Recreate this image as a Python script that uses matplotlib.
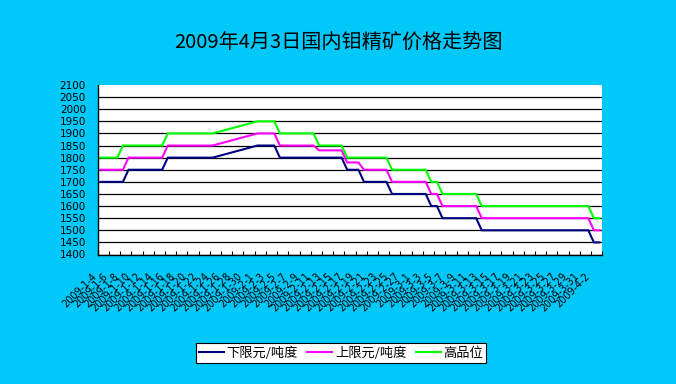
import matplotlib
matplotlib.use('Agg')
import matplotlib.pyplot as plt
import matplotlib.dates as mdates
import matplotlib.transforms as mtransforms
import numpy as np
import pandas as pd

# ---------------------------- Chart Data ---------------------------- #
# Observation dates where the prices change (the lines are joined straight between them)
obsDates = ['2009-01-04', '2009-01-07', '2009-01-08', '2009-01-09', '2009-01-15', '2009-01-16',
            '2009-01-24', '2009-02-01', '2009-02-04', '2009-02-05', '2009-02-11', '2009-02-12',
            '2009-02-16', '2009-02-17', '2009-02-19', '2009-02-20', '2009-02-24', '2009-02-25',
            '2009-03-03', '2009-03-04', '2009-03-05', '2009-03-06', '2009-03-12', '2009-03-13',
            '2009-04-01', '2009-04-02', '2009-04-03']
# 下限元/吨度
lowPrice = [1700, 1700, 1700, 1750, 1750, 1800, 1800, 1850, 1850, 1800, 1800, 1800,
            1800, 1750, 1750, 1700, 1700, 1650, 1650, 1600, 1600, 1550, 1550, 1500,
            1500, 1450, 1450]
# 上限元/吨度
highPrice = [1750, 1750, 1750, 1800, 1800, 1850, 1850, 1900, 1900, 1850, 1850, 1830,
             1830, 1780, 1780, 1750, 1750, 1700, 1700, 1650, 1650, 1600, 1600, 1550,
             1550, 1500, 1500]
# 高品位
gradePrice = [1800, 1800, 1850, 1850, 1850, 1900, 1900, 1950, 1950, 1900, 1900, 1850,
              1850, 1800, 1800, 1800, 1800, 1750, 1750, 1700, 1700, 1650, 1650, 1600,
              1600, 1550, 1550]

seriesNames = ['下限元/吨度', '上限元/吨度', '高品位']
seriesColors = ['#000080', '#FF00FF', '#00FF00']
firstDay, lastDay = '2009-01-04', '2009-04-03'
titleText = '2009年4月3日国内钼精矿价格走势图'

# ---------------------------- Figure Setup ---------------------------- #
plt.rcParams['font.family'] = ['Noto Sans CJK SC', 'DejaVu Sans']
bgColor = '#00C8F8'

fig = plt.figure(figsize=(6.76, 3.84), dpi=100)
fig.patch.set_facecolor(bgColor)
ax = fig.add_axes([97.7 / 676, 1 - 254.5 / 384, (602.3 - 97.7) / 676, (254.5 - 85) / 384])
ax.set_facecolor('white')

# Convert the dates to axis numbers
obsNum = mdates.date2num(pd.to_datetime(obsDates))
xStart = mdates.date2num(pd.Timestamp(firstDay)) - 0.5
xEnd = mdates.date2num(pd.Timestamp(lastDay)) + 0.5

for values, name, color in zip([lowPrice, highPrice, gradePrice], seriesNames, seriesColors):
    ax.plot(obsNum, values, color=color, linewidth=1.5, label=name, solid_joinstyle='miter')

# Y axis
ax.set_ylim(1400, 2100)
ax.set_yticks(np.arange(1400, 2101, 50))
ax.yaxis.grid(True, color='black', linewidth=0.9)
ax.set_axisbelow(True)
ax.yaxis.get_gridlines()[-1].set_visible(False)
ax.tick_params(axis='y', length=0, pad=8.5, labelsize=7.5)

# X axis: a label every 2 days, tick marks between the label groups
ax.set_xlim(xStart, xEnd)
labelDates = pd.date_range(firstDay, '2009-04-02', freq='2D')
ax.set_xticks(mdates.date2num(labelDates))
ax.set_xticklabels([f"{d.year}-{d.month}-{d.day}" for d in labelDates])
ax.set_xticks(np.arange(xStart, xEnd + 0.1, 2), minor=True)
ax.tick_params(axis='x', which='major', length=0, pad=12, labelsize=7)
ax.tick_params(axis='x', which='minor', direction='in', length=3, width=0.8)
shift = mtransforms.ScaledTranslation(-9 / 100, 0, fig.dpi_scale_trans)
for lab in ax.get_xticklabels():
    lab.set_rotation(45)
    lab.set_rotation_mode('anchor')
    lab.set_ha('right')
    lab.set_va('top')
    lab.set_family('DejaVu Sans')
    lab.set_transform(lab.get_transform() + shift)
for lab in ax.get_yticklabels():
    lab.set_family('DejaVu Sans')

for side in ['top', 'right']:
    ax.spines[side].set_visible(False)
for side in ['left', 'bottom']:
    ax.spines[side].set_linewidth(1.0)
    ax.spines[side].set_color('black')

# Title and legend
fig.text(0.5, 1 - 42 / 384, titleText, ha='center', va='center', fontsize=14.5)
legend = fig.legend(loc='center', bbox_to_anchor=(341 / 676, 1 - 353.3 / 384), ncol=3,
                    fontsize=9.5, frameon=True, fancybox=False, framealpha=1,
                    edgecolor='black', handlelength=1.9, handletextpad=0.2,
                    columnspacing=0.7, borderpad=0.25)
legend.get_frame().set_linewidth(0.8)

fig.savefig('out.png', dpi=100, facecolor=bgColor)
